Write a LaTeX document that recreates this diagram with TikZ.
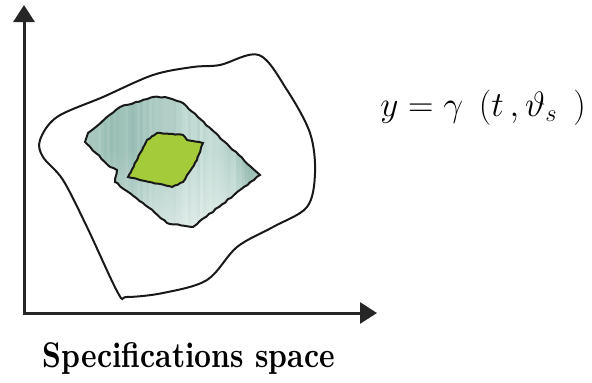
\documentclass[tikz,border=0pt]{standalone}
\usetikzlibrary{arrows.meta,decorations.pathmorphing,fadings}

\definecolor{tealpale}{RGB}{212,231,226}
\definecolor{tealdark}{RGB}{104,156,142}
\definecolor{leafgreen}{RGB}{164,204,58}

\begin{document}
\begin{tikzpicture}[
    x=1pt, y=-1pt,
    eje/.style={line width=3pt, draw=black!85, -{Triangle[length=17pt,width=21pt]}},
    borde/.style={line width=2pt, draw=black!90},
    rugoso/.style={decorate, decoration={random steps, segment length=4pt, amplitude=0.6pt}},
  ]
  \useasboundingbox (0,0) rectangle (592,383);

  % ejes
  \coordinate (origen) at (24,313);
  \coordinate (ytope) at (24,5);
  \coordinate (xtope) at (377,313);
  \draw[eje] (origen) -- (ytope);
  \draw[eje] ([xshift=-1.5pt]origen) -- (xtope);

  % region exterior
  \draw[borde] plot[smooth cycle, tension=0.55] coordinates {
    (259,55) (220,65) (193,67) (153,75) (103,97) (57,117) (40,140) (43,157)
    (63,180) (87,227) (118,293) (127,297) (163,293) (207,280) (237,247)
    (273,227) (307,207) (315,173) (310,133) (287,90)};

  % region intermedia (textura verde agua)
  \begin{scope}
    \pgfmathsetseed{11}
    \clip[rugoso] (85,142) -- (88,133) -- (120,107) -- (153,97) -- (165,97)
      -- (183,103) -- (260,175) -- (193,227) -- (167,223) -- (143,203)
      -- (115,182) -- (117,170) -- (110,167) -- cycle;
    \fill[tealpale] (80,90) rectangle (266,232);
    \foreach \xx in {80,83,...,263} {
      \pgfmathsetmacro\tono{max(0,min(65,26+16*sin(2.2*(\xx-80))+28*exp(-((\xx-250)/9)^2)+rnd*16))}
      \fill[tealdark!\tono!tealpale] (\xx,90) rectangle ++(3.3,142);
    }
    \fill[white, path fading=north, opacity=0.5] (80,150) rectangle (266,232);
  \end{scope}
  \pgfmathsetseed{11}
  \draw[borde, rugoso] (85,142) -- (88,133) -- (120,107) -- (153,97) -- (165,97)
      -- (183,103) -- (260,175) -- (193,227) -- (167,223) -- (143,203)
      -- (115,182) -- (117,170) -- (110,167) -- cycle;

  % region interior
  \pgfmathsetseed{5}
  \filldraw[borde, fill=leafgreen, decorate,
    decoration={random steps, segment length=3pt, amplitude=0.4pt}]
    (128,177) -- (147,140) -- (157,133) -- (183,135) -- (187,140) -- (203,143)
    -- (197,160) -- (183,182) -- (172,187) -- cycle;

  % textos
  \node[anchor=base, inner sep=0pt, font=\huge] (ley) at (483,116)
    {\scalebox{1.7}{$y=\gamma\;\,(t\,,\vartheta_{s}\;\,)$}};
  \node[anchor=base, inner sep=0pt] (titulo) at (189,367)
    {\resizebox{292pt}{25pt}{\bfseries Specifications space}};
\end{tikzpicture}
\end{document}
